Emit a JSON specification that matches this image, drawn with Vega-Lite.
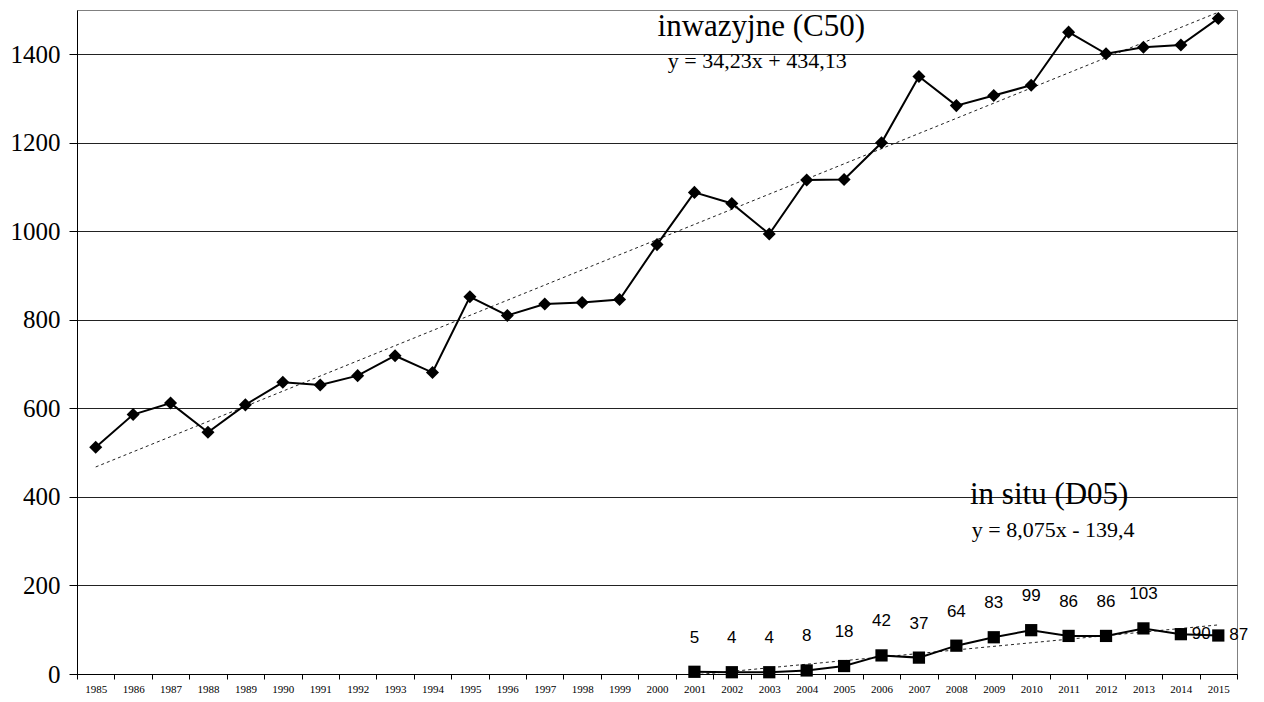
{
  "$schema": "https://vega.github.io/schema/vega-lite/v6.json",
  "width": 1160,
  "height": 664,
  "autosize": {"type": "none"},
  "padding": {"left": 77, "top": 10, "right": 27, "bottom": 28},
  "background": "white",
  "config": {
    "view": {"stroke": "#808080", "strokeWidth": 1}
  },
  "data": {
    "values": [
      {"year": 1985, "series": "inwazyjne", "value": 512},
      {"year": 1986, "series": "inwazyjne", "value": 586},
      {"year": 1987, "series": "inwazyjne", "value": 612},
      {"year": 1988, "series": "inwazyjne", "value": 546},
      {"year": 1989, "series": "inwazyjne", "value": 608},
      {"year": 1990, "series": "inwazyjne", "value": 659},
      {"year": 1991, "series": "inwazyjne", "value": 653},
      {"year": 1992, "series": "inwazyjne", "value": 674},
      {"year": 1993, "series": "inwazyjne", "value": 719},
      {"year": 1994, "series": "inwazyjne", "value": 681},
      {"year": 1995, "series": "inwazyjne", "value": 852},
      {"year": 1996, "series": "inwazyjne", "value": 810},
      {"year": 1997, "series": "inwazyjne", "value": 836},
      {"year": 1998, "series": "inwazyjne", "value": 839},
      {"year": 1999, "series": "inwazyjne", "value": 846},
      {"year": 2000, "series": "inwazyjne", "value": 970},
      {"year": 2001, "series": "inwazyjne", "value": 1088},
      {"year": 2002, "series": "inwazyjne", "value": 1063},
      {"year": 2003, "series": "inwazyjne", "value": 994},
      {"year": 2004, "series": "inwazyjne", "value": 1116},
      {"year": 2005, "series": "inwazyjne", "value": 1117},
      {"year": 2006, "series": "inwazyjne", "value": 1200},
      {"year": 2007, "series": "inwazyjne", "value": 1350},
      {"year": 2008, "series": "inwazyjne", "value": 1284},
      {"year": 2009, "series": "inwazyjne", "value": 1307},
      {"year": 2010, "series": "inwazyjne", "value": 1330},
      {"year": 2011, "series": "inwazyjne", "value": 1450},
      {"year": 2012, "series": "inwazyjne", "value": 1401},
      {"year": 2013, "series": "inwazyjne", "value": 1416},
      {"year": 2014, "series": "inwazyjne", "value": 1421},
      {"year": 2015, "series": "inwazyjne", "value": 1481},
      {"year": 2001, "series": "in situ", "value": 5},
      {"year": 2002, "series": "in situ", "value": 4},
      {"year": 2003, "series": "in situ", "value": 4},
      {"year": 2004, "series": "in situ", "value": 8},
      {"year": 2005, "series": "in situ", "value": 18},
      {"year": 2006, "series": "in situ", "value": 42},
      {"year": 2007, "series": "in situ", "value": 37},
      {"year": 2008, "series": "in situ", "value": 64},
      {"year": 2009, "series": "in situ", "value": 83},
      {"year": 2010, "series": "in situ", "value": 99},
      {"year": 2011, "series": "in situ", "value": 86},
      {"year": 2012, "series": "in situ", "value": 86},
      {"year": 2013, "series": "in situ", "value": 103},
      {"year": 2014, "series": "in situ", "value": 90},
      {"year": 2015, "series": "in situ", "value": 87}
    ]
  },
  "encoding": {
    "x": {
      "field": "year",
      "type": "ordinal",
      "scale": {"type": "band", "paddingInner": 0, "paddingOuter": 0},
      "axis": {
        "title": null,
        "labelAngle": 0,
        "tickBand": "extent",
        "labelFont": "Liberation Serif",
        "labelFontSize": 11,
        "labelColor": "black",
        "tickSize": 5,
        "tickColor": "black",
        "domainColor": "black",
        "labelPadding": 4
      }
    },
    "y": {
      "field": "value",
      "type": "quantitative",
      "scale": {"domain": [0, 1500], "nice": false},
      "axis": {
        "title": null,
        "format": "d",
        "values": [0, 200, 400, 600, 800, 1000, 1200, 1400],
        "grid": true,
        "gridColor": "#222222",
        "gridOpacity": 1,
        "labelFont": "Liberation Serif",
        "labelFontSize": 25,
        "labelColor": "black",
        "tickSize": 8,
        "tickColor": "black",
        "domainColor": "black",
        "labelPadding": 9
      }
    }
  },
  "layer": [
    {
      "transform": [{"regression": "value", "on": "year", "groupby": ["series"]}],
      "mark": {"type": "line", "color": "#222222", "strokeWidth": 1, "strokeDash": [3, 3], "clip": true},
      "encoding": {"detail": {"field": "series"}}
    },
    {
      "mark": {"type": "line", "color": "black", "strokeWidth": 2},
      "encoding": {"detail": {"field": "series"}}
    },
    {
      "mark": {"type": "point", "filled": true, "color": "black", "opacity": 1},
      "encoding": {
        "shape": {
          "field": "series",
          "scale": {"domain": ["inwazyjne", "in situ"], "range": ["diamond", "square"]},
          "legend": null
        },
        "size": {
          "field": "series",
          "scale": {"domain": ["inwazyjne", "in situ"], "range": [170, 150]},
          "legend": null
        }
      }
    },
    {
      "transform": [{"filter": "datum.series === 'in situ' && datum.year <= 2013"}],
      "mark": {"type": "text", "font": "Liberation Sans", "fontSize": 17, "color": "black", "dy": -34, "baseline": "middle"},
      "encoding": {"text": {"field": "value"}}
    },
    {
      "transform": [{"filter": "datum.series === 'in situ' && datum.year > 2013"}],
      "mark": {"type": "text", "font": "Liberation Sans", "fontSize": 17, "color": "black", "align": "left", "dx": 11, "baseline": "middle"},
      "encoding": {"text": {"field": "value"}}
    },
    {
      "transform": [{"filter": "datum.series === 'inwazyjne' && datum.year === 2003"}],
      "mark": {"type": "text", "text": "inwazyjne (C50)", "font": "Liberation Serif", "fontSize": 31, "color": "black", "dx": -8, "baseline": "alphabetic"},
      "encoding": {"y": {"datum": 1442}}
    },
    {
      "transform": [{"filter": "datum.series === 'inwazyjne' && datum.year === 2003"}],
      "mark": {"type": "text", "text": "y = 34,23x + 434,13", "font": "Liberation Serif", "fontSize": 22, "color": "black", "dx": -12, "baseline": "alphabetic"},
      "encoding": {"y": {"datum": 1370}}
    },
    {
      "transform": [{"filter": "datum.series === 'in situ' && datum.year === 2010"}],
      "mark": {"type": "text", "text": "in situ (D05)", "font": "Liberation Serif", "fontSize": 31, "color": "black", "dx": 18, "baseline": "alphabetic"},
      "encoding": {"y": {"datum": 385}}
    },
    {
      "transform": [{"filter": "datum.series === 'in situ' && datum.year === 2010"}],
      "mark": {"type": "text", "text": "y = 8,075x - 139,4", "font": "Liberation Serif", "fontSize": 22, "color": "black", "dx": 22, "baseline": "alphabetic"},
      "encoding": {"y": {"datum": 309}}
    }
  ]
}
